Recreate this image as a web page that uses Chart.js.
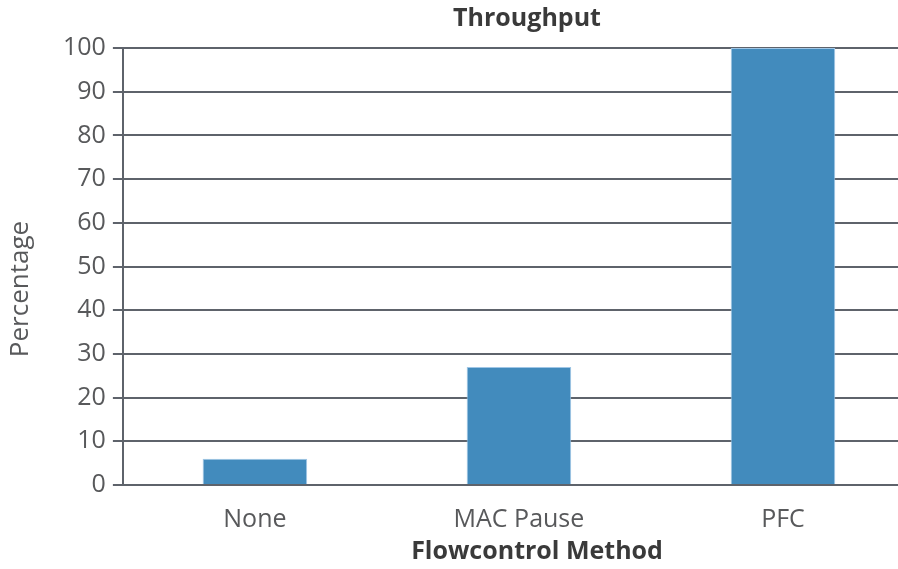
<!DOCTYPE html>
<html>
<head>
<meta charset="utf-8">
<script src="https://cdn.jsdelivr.net/npm/chart.js@4/dist/chart.umd.min.js"></script>
<style>
html,body{margin:0;padding:0;background:#fff;overflow:hidden;width:898px;height:569px;}
#wrap{width:915px;height:569px;}
</style>
</head>
<body>
<div id="wrap"><canvas id="c" width="915" height="569"></canvas></div>
<script>
const categories = ["None", "MAC Pause", "PFC"];
const throughput = [6, 27, 100];
const yTicks = [0, 10, 20, 30, 40, 50, 60, 70, 80, 90, 100];
const chartTitle = "Throughput";
const xTitle = "Flowcontrol Method";
const yTitle = "Percentage";

const gridColor = '#5e636b';
const textColor = '#58595b';
const titleColor = '#3a3a3a';
const FONT = "'Open Sans', sans-serif";

const titlesPlugin = {
  id: 'titles',
  afterDraw(chart) {
    const ctx = chart.ctx;
    ctx.save();
    ctx.textAlign = 'center';
    ctx.textBaseline = 'middle';
    ctx.fillStyle = titleColor;
    ctx.font = "bold 25px " + FONT;
    ctx.fillText(chartTitle, 527, 19);
    ctx.fillText(xTitle, 537, 552);
    ctx.fillStyle = textColor;
    ctx.font = "26px " + FONT;
    ctx.translate(21, 289);
    ctx.rotate(-Math.PI / 2);
    ctx.fillText(yTitle, 0, 0);
    ctx.restore();
  }
};

new Chart(document.getElementById('c'), {
  type: 'bar',
  data: {
    labels: categories,
    datasets: [{
      label: chartTitle,
      data: throughput,
      backgroundColor: '#428bbd',
      borderColor: '#9fc6e6',
      borderWidth: 1,
      barPercentage: 0.8,
      categoryPercentage: 0.495
    }]
  },
  options: {
    responsive: false,
    animation: false,
    layout: { padding: { left: 56, right: 0, top: 48, bottom: 22 } },
    plugins: {
      legend: { display: false },
      tooltip: { enabled: false },
      title: { display: false }
    },
    scales: {
      x: {
        grid: { display: false },
        border: { display: false },
        ticks: { color: textColor, font: { family: FONT, size: 25 }, padding: 12 }
      },
      y: {
        min: 0,
        max: 100,
        afterBuildTicks: (axis) => { axis.ticks = yTicks.map(v => ({ value: v })); },
        grid: { color: gridColor, lineWidth: 2, drawTicks: true, tickLength: 10 },
        border: { display: true, color: gridColor, width: 2 },
        ticks: { color: textColor, font: { family: FONT, size: 25 }, padding: 7 }
      }
    }
  },
  plugins: [titlesPlugin]
});
</script>
</body>
</html>
